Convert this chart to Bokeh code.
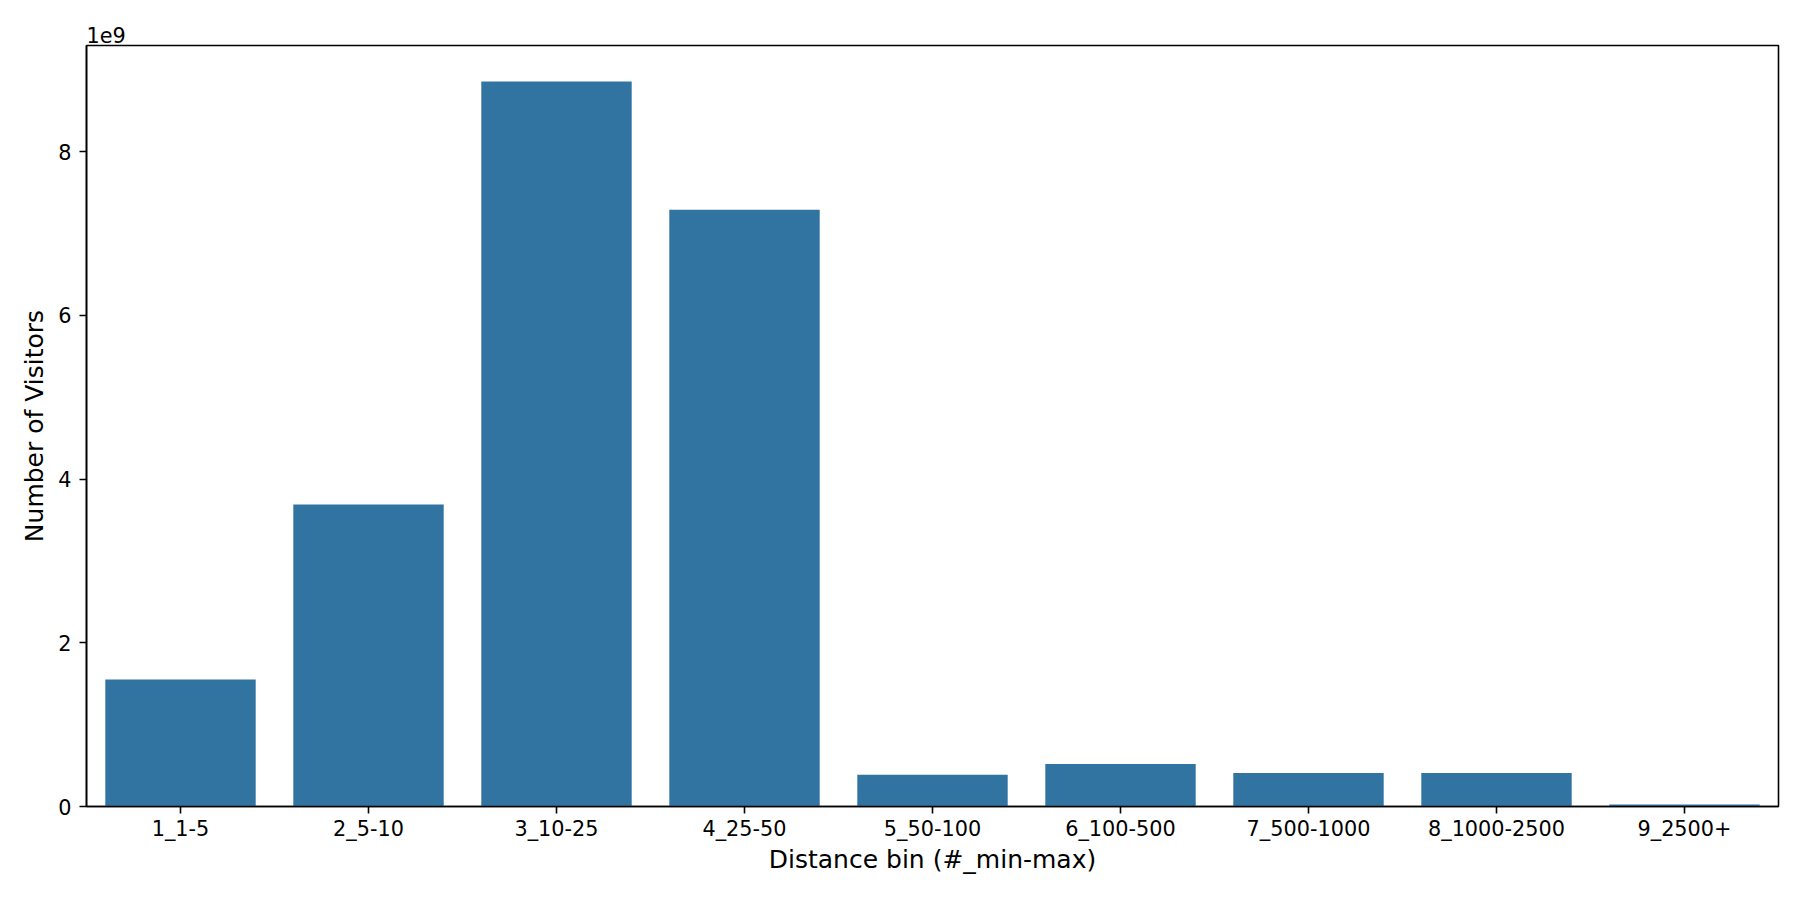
from bokeh.plotting import figure
from bokeh.models import ColumnDataSource, FactorRange, Range1d, FixedTicker
from bokeh.embed import file_html
from bokeh.resources import INLINE

# ---- data ----
categories = ["1_1-5", "2_5-10", "3_10-25", "4_25-50", "5_50-100",
              "6_100-500", "7_500-1000", "8_1000-2500", "9_2500+"]
visitors = [1.55e9, 3.69e9, 8.855e9, 7.29e9, 0.387e9,
            0.52e9, 0.41e9, 0.41e9, 0.025e9]
y_ticks = [0, 2e9, 4e9, 6e9, 8e9]
y_tick_labels = ["0", "2", "4", "6", "8"]

FONT = "DejaVu Sans"
BAR_COLOR = "#3274a1"

src = ColumnDataSource(dict(cat=categories, val=visitors))

p = figure(
    width=1784, height=884,
    x_range=FactorRange(*categories, range_padding=0),
    y_range=Range1d(0, 9.295e9),
    output_backend="svg", toolbar_location=None,
    min_border_left=86, min_border_right=6,
    min_border_top=45, min_border_bottom=78,
    background_fill_color="white", border_fill_color="white",
)

p.vbar(x="cat", top="val", width=0.8, source=src,
       fill_color=BAR_COLOR, line_color=None)

# "1e9" offset text as title
p.title.text = "1e9"
p.title.align = "left"
p.title.text_font = FONT
p.title.text_font_size = "20.8px"
p.title.text_font_style = "normal"
p.title.text_color = "black"
p.title.offset = 0
p.title.standoff = 6

p.xgrid.visible = False
p.ygrid.visible = False
p.outline_line_color = "black"
p.outline_line_width = 1.6

p.yaxis.ticker = FixedTicker(ticks=y_ticks)
p.yaxis.major_label_overrides = {t: l for t, l in zip(y_ticks, y_tick_labels)}

for ax in (p.xaxis[0], p.yaxis[0]):
    ax.axis_line_color = "black"
    ax.axis_line_width = 1.6
    ax.major_tick_line_color = "black"
    ax.major_tick_line_width = 1.6
    ax.major_tick_out = 7
    ax.major_tick_in = 0
    ax.minor_tick_line_color = None
    ax.major_label_text_font = FONT
    ax.major_label_text_font_size = "20.8px"
    ax.major_label_text_color = "black"
    ax.axis_label_text_font = FONT
    ax.axis_label_text_font_size = "25px"
    ax.axis_label_text_font_style = "normal"
    ax.axis_label_text_color = "black"

p.xaxis.major_label_standoff = 3
p.yaxis.major_label_standoff = 8
p.xaxis.axis_label = "Distance bin (#_min-max)"
p.yaxis.axis_label = "Number of Visitors"
p.xaxis.axis_label_standoff = 1
p.yaxis.axis_label_standoff = 6
p.yaxis.major_label_orientation = "horizontal"

open("out.html", "w").write(file_html(p, INLINE))
